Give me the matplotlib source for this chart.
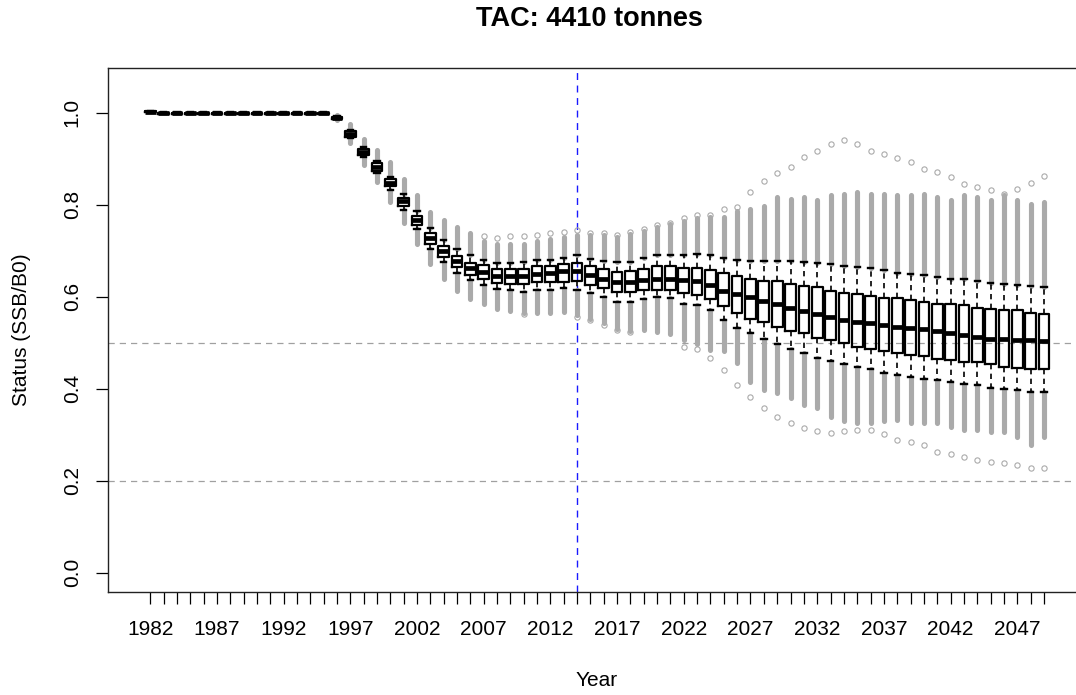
import numpy as np
import matplotlib
matplotlib.use("Agg")
import matplotlib.pyplot as plt

plt.rcParams['font.family'] = ['Liberation Sans', 'DejaVu Sans']

years = list(range(1982, 2050))
nan = np.nan

# summary stats (SSB/B0)
med = [1.002, 0.999, 0.999, 0.999, 0.999, 0.999, 0.999, 0.999, 0.999, 0.999, 0.999, 0.999, 0.999, 0.999,
       0.989, 0.953, 0.915, 0.882, 0.848, 0.807, 0.766, 0.727, 0.699, 0.677, 0.662,
       0.654, 0.645, 0.644, 0.644, 0.650, 0.651, 0.656, 0.656, 0.646, 0.639, 0.632, 0.632,
       0.637, 0.638, 0.638, 0.637, 0.634, 0.625, 0.613, 0.605, 0.599, 0.590, 0.585, 0.576,
       0.568, 0.562, 0.556, 0.550, 0.544, 0.542, 0.539, 0.533, 0.531, 0.529, 0.525, 0.520,
       0.516, 0.513, 0.508, 0.508, 0.505, 0.505, 0.503]
q1 = [1.001, 0.998, 0.998, 0.998, 0.998, 0.998, 0.998, 0.998, 0.998, 0.998, 0.998, 0.998, 0.998, 0.998,
      0.987, 0.947, 0.908, 0.874, 0.840, 0.798, 0.755, 0.715, 0.686, 0.664, 0.646,
      0.639, 0.630, 0.628, 0.627, 0.632, 0.632, 0.632, 0.634, 0.625, 0.619, 0.610, 0.610,
      0.614, 0.614, 0.614, 0.607, 0.604, 0.594, 0.579, 0.565, 0.552, 0.545, 0.533, 0.525,
      0.520, 0.511, 0.505, 0.500, 0.491, 0.487, 0.482, 0.477, 0.473, 0.471, 0.465, 0.462,
      0.459, 0.457, 0.454, 0.448, 0.445, 0.442, 0.442]
q3 = [1.003, 1.000, 1.000, 1.000, 1.000, 1.000, 1.000, 1.000, 1.000, 1.000, 1.000, 1.000, 1.000, 1.000,
      0.991, 0.959, 0.922, 0.890, 0.855, 0.815, 0.775, 0.738, 0.711, 0.689, 0.673,
      0.668, 0.661, 0.661, 0.661, 0.667, 0.667, 0.670, 0.673, 0.666, 0.661, 0.654, 0.656,
      0.661, 0.667, 0.667, 0.663, 0.663, 0.659, 0.652, 0.644, 0.639, 0.635, 0.633, 0.627,
      0.624, 0.620, 0.613, 0.607, 0.605, 0.602, 0.596, 0.596, 0.592, 0.588, 0.585, 0.585,
      0.582, 0.576, 0.573, 0.570, 0.570, 0.565, 0.563]
whis_lo = [1.000, 0.997, 0.997, 0.997, 0.997, 0.997, 0.997, 0.997, 0.997, 0.997, 0.997, 0.997, 0.997, 0.997,
           0.986, 0.944, 0.904, 0.868, 0.832, 0.789, 0.746, 0.703, 0.675, 0.652, 0.636,
           0.625, 0.616, 0.614, 0.610, 0.615, 0.615, 0.618, 0.615, 0.607, 0.600, 0.589, 0.589,
           0.594, 0.600, 0.596, 0.585, 0.581, 0.570, 0.549, 0.531, 0.521, 0.509, 0.498, 0.486,
           0.478, 0.466, 0.460, 0.453, 0.446, 0.442, 0.435, 0.430, 0.426, 0.422, 0.419, 0.415,
           0.410, 0.407, 0.402, 0.399, 0.396, 0.392, 0.392]
whis_hi = [1.004, 1.001, 1.001, 1.001, 1.001, 1.001, 1.001, 1.001, 1.001, 1.001, 1.001, 1.001, 1.001, 1.001,
           0.992, 0.962, 0.926, 0.894, 0.861, 0.824, 0.787, 0.750, 0.724, 0.704, 0.690,
           0.680, 0.674, 0.674, 0.675, 0.680, 0.680, 0.685, 0.690, 0.681, 0.677, 0.675, 0.675,
           0.683, 0.690, 0.690, 0.690, 0.692, 0.690, 0.684, 0.680, 0.678, 0.678, 0.677, 0.677,
           0.676, 0.674, 0.670, 0.667, 0.665, 0.663, 0.659, 0.652, 0.649, 0.646, 0.643, 0.638,
           0.638, 0.635, 0.630, 0.627, 0.625, 0.624, 0.622]

# extent of the dense run of outliers below / above the whiskers
dense_lo = [nan, nan, nan, nan, nan, nan, nan, nan, nan, nan, nan, nan, nan, nan,
            0.983, 0.935, 0.887, 0.849, 0.805, 0.760, 0.714, 0.672, 0.639, 0.612, 0.594,
            0.583, 0.574, 0.569, 0.565, 0.565, 0.565, 0.567, 0.560, 0.552, 0.542, 0.530, 0.526,
            0.527, 0.523, 0.518, 0.505, 0.497, 0.484, 0.482, 0.455, 0.415, 0.397, 0.390, 0.379,
            0.364, 0.357, 0.339, 0.330, 0.325, 0.325, 0.330, 0.332, 0.325, 0.325, 0.325, 0.317,
            0.310, 0.310, 0.306, 0.306, 0.296, 0.278, 0.296]
dense_hi = [nan, nan, nan, nan, nan, nan, nan, nan, nan, nan, nan, nan, nan, nan,
            0.995, 0.975, 0.943, 0.918, 0.892, 0.855, 0.820, 0.785, 0.766, 0.751, 0.738,
            0.720, 0.715, 0.715, 0.715, 0.720, 0.725, 0.730, 0.733, 0.733, 0.735, 0.730, 0.737,
            0.743, 0.752, 0.758, 0.765, 0.772, 0.774, 0.773, 0.787, 0.791, 0.798, 0.816, 0.813,
            0.816, 0.809, 0.820, 0.824, 0.827, 0.824, 0.824, 0.820, 0.820, 0.824, 0.816, 0.809,
            0.820, 0.816, 0.809, 0.820, 0.809, 0.802, 0.805]
# most extreme outliers
out_lo = [nan, nan, nan, nan, nan, nan, nan, nan, nan, nan, nan, nan, nan, nan,
          nan, nan, nan, nan, nan, nan, nan, nan, nan, nan, nan,
          nan, nan, nan, 0.563, nan, nan, nan, 0.556, 0.549, 0.538, 0.527, 0.523,
          nan, nan, nan, 0.491, 0.487, 0.466, 0.440, 0.408, 0.382, 0.359, 0.339, 0.325,
          0.314, 0.308, 0.304, 0.308, 0.310, 0.310, 0.302, 0.288, 0.283, 0.278, 0.263, 0.258,
          0.251, 0.245, 0.241, 0.238, 0.234, 0.227, 0.228]
out_hi = [nan, nan, nan, nan, nan, nan, nan, nan, nan, nan, nan, nan, nan, nan,
          nan, nan, nan, nan, nan, nan, nan, nan, nan, nan, nan,
          0.731, 0.728, 0.731, 0.731, 0.735, 0.738, 0.740, 0.744, 0.738, 0.738, 0.733, 0.740,
          0.746, 0.755, 0.760, 0.770, 0.777, 0.777, 0.791, 0.795, 0.827, 0.852, 0.868, 0.881,
          0.903, 0.916, 0.931, 0.941, 0.932, 0.916, 0.910, 0.902, 0.893, 0.878, 0.871, 0.860,
          0.845, 0.838, 0.831, 0.824, 0.835, 0.848, 0.862]

ref_lines = [0.5, 0.2]
current_year = 2014

pos = np.arange(1, len(years) + 1)

stats = []
for i in range(len(years)):
    fl = [v for v in (out_lo[i], out_hi[i]) if not np.isnan(v)]
    stats.append(dict(med=med[i], q1=q1[i], q3=q3[i], whislo=whis_lo[i],
                      whishi=whis_hi[i], fliers=np.array(fl)))

fig = plt.figure(figsize=(10.76, 6.95), dpi=100)
# right edge of the plot region falls outside the image, as in the reference
ax = fig.add_axes([107.5 / 1076, 103 / 695, 979.3 / 1076, 524 / 695])

grey = '#aaaaaa'
# dense outlier runs, drawn as thick grey bars
dl = np.array(dense_lo)
dh = np.array(dense_hi)
ok = ~np.isnan(dl)
ax.vlines(pos[ok], dl[ok], np.array(whis_lo)[ok], colors=grey, linewidth=3.7,
          capstyle='round', zorder=1.5)
ax.vlines(pos[ok], np.array(whis_hi)[ok], dh[ok], colors=grey, linewidth=3.7,
          capstyle='round', zorder=1.5)

ax.bxp(stats, positions=pos, widths=0.8, capwidths=0.4, showfliers=True,
       boxprops=dict(color='black', linewidth=1.6),
       medianprops=dict(color='black', linewidth=3.4, solid_capstyle='butt'),
       whiskerprops=dict(color='black', linewidth=1.2, linestyle=(0, (3.2, 2.6))),
       capprops=dict(color='black', linewidth=1.7),
       flierprops=dict(marker='o', markerfacecolor='none', markeredgecolor=grey,
                       markersize=3.8, markeredgewidth=0.8))

for y in ref_lines:
    ax.axhline(y, color='#a0a0a0', linewidth=0.9, linestyle=(0, (5, 4)), zorder=1)
ax.axvline(pos[years.index(current_year)], color='#1a1aff', linewidth=1.0,
           linestyle=(0, (5, 4)), zorder=1)

ax.set_xlim(-2.22, 71.22)
ax.set_ylim(-0.042, 1.097)

ax.set_xticks(pos)
ax.set_xticklabels([str(y) if (y - 1982) % 5 == 0 else '' for y in years])
ax.set_yticks([0.0, 0.2, 0.4, 0.6, 0.8, 1.0])
ax.set_yticklabels(['0.0', '0.2', '0.4', '0.6', '0.8', '1.0'])
ax.tick_params(axis='both', direction='out', length=8.6, width=0.9, labelsize=15,
               colors='black')
ax.tick_params(axis='x', pad=11.5)
ax.tick_params(axis='y', pad=10, labelrotation=90)
for lab in ax.get_yticklabels():
    lab.set_va('center')

for s in ('left', 'top', 'bottom'):
    ax.spines[s].set_linewidth(1.0)
    ax.spines[s].set_color('#222222')
ax.spines['right'].set_visible(False)

fig.text(589 / 1076, 1 - 19 / 695, 'TAC: 4410 tonnes', ha='center', va='center',
         fontsize=19.5, fontweight='bold')
fig.text(597 / 1076, 1 - 681 / 695, 'Year', ha='center', va='center', fontsize=15)
fig.text(22 / 1076, 1 - 330 / 695, 'Status (SSB/B0)', ha='center', va='center',
         rotation=90, fontsize=15)

fig.savefig('out.png', dpi=100)
